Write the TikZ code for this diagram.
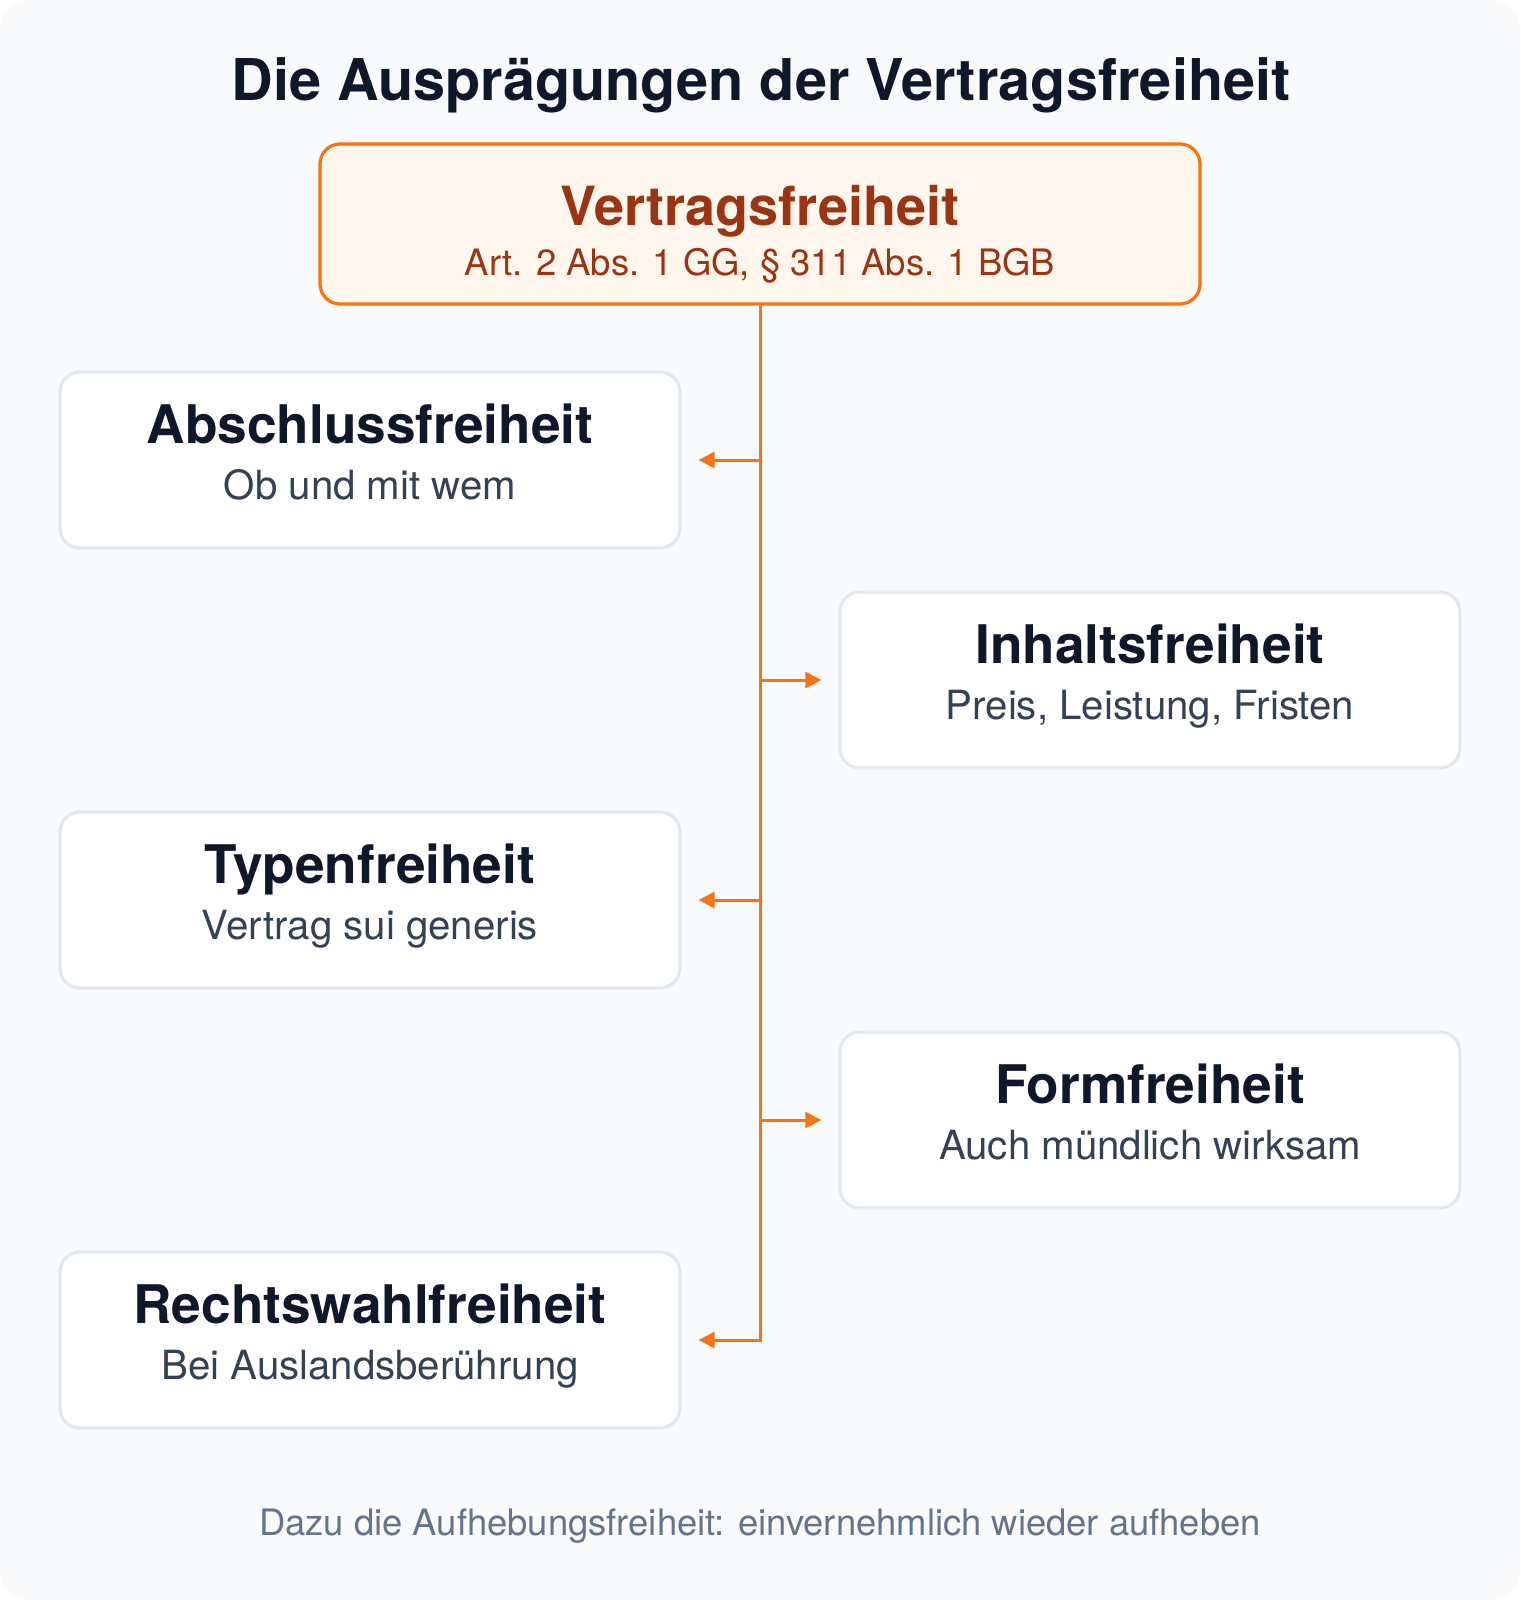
\documentclass[tikz,border=0pt]{standalone}
\usepackage{fontspec}
\setmainfont{TeX Gyre Heros}
\usepackage{tikz}
\usetikzlibrary{arrows.meta}

\definecolor{bgcol}{HTML}{F8FAFC}
\definecolor{titlecol}{HTML}{0F172A}
\definecolor{subcol}{HTML}{334155}
\definecolor{notecol}{HTML}{64748B}
\definecolor{linecol}{HTML}{E2E8F0}
\definecolor{orangecol}{HTML}{F97316}
\definecolor{headfill}{HTML}{FFF7ED}
\definecolor{headtext}{HTML}{9A3412}

\tikzset{
	item/.style={draw=linecol, line width=1.6pt, fill=white, rounded corners=10pt,
		minimum width=310pt, minimum height=88pt},
	itemtitle/.style={anchor=base, text=titlecol, font=\fontsize{26.6}{31}\selectfont\bfseries},
	itemsub/.style={anchor=base, text=subcol, font=\fontsize{20.1}{24}\selectfont},
	link/.style={draw=orangecol, line width=1.5pt, -{Triangle[length=8pt,width=8pt]}, shorten >=8.5pt},
}

\begin{document}
\begin{tikzpicture}[x=0.5pt, y=-0.5pt]
		\useasboundingbox (0,0) rectangle (1520,1600);
		\fill[white] (0,0) rectangle (1520,1600);
		\fill[bgcol, rounded corners=14pt] (0,0) rectangle (1520,1600);

		\node[anchor=base, text=titlecol, font=\fontsize{28.8}{34}\selectfont\bfseries] (title) at (761,100.7) {Die Ausprägungen der Vertragsfreiheit};

		% Header box
		\node[draw=orangecol, line width=1.6pt, fill=headfill, rounded corners=10pt,
			minimum width=440pt, minimum height=80pt] (head) at (760,224) {};
		\node[anchor=base, text=headtext, font=\fontsize{27}{32}\selectfont\bfseries] (head-t) at (760,225) {Vertragsfreiheit};
		\node[anchor=base, text=headtext, font=\fontsize{18.2}{22}\selectfont] (head-s) at (760,275.7) {Art. 2 Abs. 1 GG, § 311 Abs. 1 BGB};

		% Boxes left
		\node[item] (abschluss) at (370,460) {};
		\node[itemtitle] (abschluss-t) at (370,443.5) {Abschlussfreiheit};
		\node[itemsub] (abschluss-s) at (370,499.5) {Ob und mit wem};

		\node[item] (typen) at (370,900) {};
		\node[itemtitle] (typen-t) at (370,883.5) {Typenfreiheit};
		\node[itemsub] (typen-s) at (370,939.5) {Vertrag sui generis};

		\node[item] (rechtswahl) at (370,1340) {};
		\node[itemtitle] (rechtswahl-t) at (370,1323.5) {Rechtswahlfreiheit};
		\node[itemsub] (rechtswahl-s) at (370,1379.5) {Bei Auslandsberührung};

		% Boxes right
		\node[item] (inhalt) at (1150,680) {};
		\node[itemtitle] (inhalt-t) at (1150,663.5) {Inhaltsfreiheit};
		\node[itemsub] (inhalt-s) at (1150,719.5) {Preis, Leistung, Fristen};

		\node[item] (form) at (1150,1120) {};
		\node[itemtitle] (form-t) at (1150,1103.5) {Formfreiheit};
		\node[itemsub] (form-s) at (1150,1159.5) {Auch mündlich wirksam};

		% Trunk and branches
		\coordinate (j1) at (760,460);
		\coordinate (j2) at (760,680);
		\coordinate (j3) at (760,900);
		\coordinate (j4) at (760,1120);
		\coordinate (j5) at (760,1340);
		\draw[link] (head) -- (j5) -- (rechtswahl);
		\draw[link] (j1) -- (abschluss);
		\draw[link] (j2) -- (inhalt);
		\draw[link] (j3) -- (typen);
		\draw[link] (j4) -- (form);

		\node[anchor=base, text=notecol, font=\fontsize{18.2}{22}\selectfont] (note) at (760,1535.7) {Dazu die Aufhebungsfreiheit: einvernehmlich wieder aufheben};
	\end{tikzpicture}
\end{document}
